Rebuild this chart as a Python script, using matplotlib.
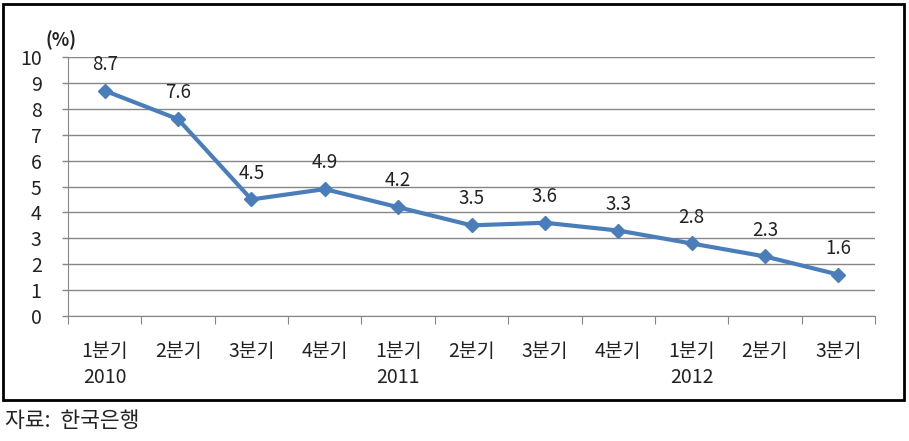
import matplotlib.pyplot as plt
from matplotlib.patches import Rectangle

plt.rcParams['font.family'] = ['Noto Sans CJK KR', 'DejaVu Sans']

quarters = ['1분기\n2010', '2분기', '3분기', '4분기', '1분기\n2011', '2분기',
            '3분기', '4분기', '1분기\n2012', '2분기', '3분기']
rates = [8.7, 7.6, 4.5, 4.9, 4.2, 3.5, 3.6, 3.3, 2.8, 2.3, 1.6]

fig = plt.figure(figsize=(9.09, 4.41), dpi=100)
ax = fig.add_axes([68/909, 1-316/441, (875-68)/909, (316-57)/441])

x = list(range(len(rates)))
ax.plot(x, rates, color='#4A7EBB', linewidth=3, marker='D', markersize=7,
        markerfacecolor='#4A7EBB', markeredgecolor='#4A7EBB', zorder=3)
for xi, v in zip(x, rates):
    ax.annotate(f'{v}', (xi, v), textcoords='offset points', xytext=(0, 19),
                ha='center', va='center', fontsize=13.5, color='#222222')

ax.set_xlim(-0.5, len(rates) - 0.5)
ax.set_ylim(0, 10)
ax.set_yticks(range(0, 11))
ax.yaxis.grid(True, color='#868686', linewidth=1)
ax.set_axisbelow(True)
ax.tick_params(axis='y', length=4.5, width=1, color='#868686', direction='out',
               pad=14.5, labelsize=14, labelcolor='#222222')

ax.set_xticks([i + 0.5 for i in range(-1, len(rates))])
ax.set_xticklabels([])
ax.set_xticks(x, minor=True)
ax.set_xticklabels(quarters, minor=True, fontsize=14, color='#222222',
                   linespacing=1.3)
ax.tick_params(axis='x', which='major', length=6, color='#868686', direction='out')
ax.tick_params(axis='x', which='minor', length=0, pad=18)

for s in ['top', 'right']:
    ax.spines[s].set_visible(False)
ax.spines['left'].set_color('#868686')
ax.spines['bottom'].set_color('#868686')

fig.text(61/909, 1-40/441, '(%)', ha='center', va='center', fontsize=13,
         fontweight='bold', color='#222222')
fig.patches.append(Rectangle((3/909, 1-400/441), 901/909, 396/441,
                             transform=fig.transFigure, fill=False,
                             edgecolor='black', linewidth=2))
fig.text(5/909, 1-421/441, '자료:  한국은행', ha='left', va='center',
         fontsize=15.5, color='#222222')

fig.savefig('out.png', dpi=100)
